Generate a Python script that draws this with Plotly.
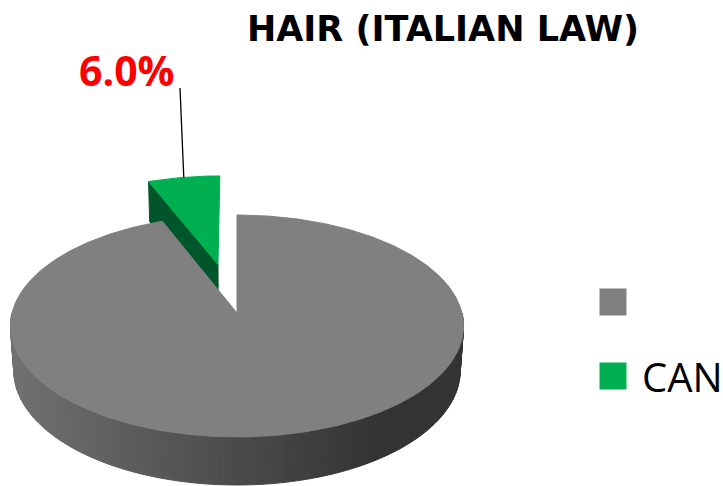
import numpy as np
import plotly.graph_objects as go

# ---- data ----
labels = ["", "CAN"]
values = [94.0, 6.0]
top_colors = ["#808080", "#00B050"]
cut_colors = ["#5a5a5a", "#00562B"]
pull = [0.0, 0.476]
title_text = "HAIR (ITALIAN LAW)"

W, H = 723, 486

# ---- 3D pie projection (perspective view of a tilted disc) ----
CX, CY = 237.0, 313.0
CAM = 7.47
FOCAL = 225.0 * CAM
TILT = np.radians(29.1)
THICK = 0.229
S, C = np.sin(TILT), np.cos(TILT)


def project(theta_deg, r=1.0, z=0.0, off=(0.0, 0.0)):
    t = np.radians(np.asarray(theta_deg, dtype=float))
    X = r * np.sin(t) + off[0]
    D = r * np.cos(t) + off[1]
    dist = CAM + C * D - S * z
    return CX + FOCAL * X / dist, CY - FOCAL * (S * D + C * z) / dist


total = sum(values)
bounds = np.concatenate([[0.0], np.cumsum(values) / total * 360.0])
slices = []
for i, v in enumerate(values):
    a0, a1 = bounds[i], bounds[i + 1]
    mid = np.radians((a0 + a1) / 2)
    off = (pull[i] * np.sin(mid), pull[i] * np.cos(mid))
    slices.append(dict(a0=a0, a1=a1, off=off, mid=(a0 + a1) / 2))

fig = go.Figure()


def poly(xs, ys, color):
    fig.add_trace(go.Scatter(
        x=list(xs) + [xs[0]], y=list(ys) + [ys[0]], mode="lines",
        fill="toself", fillcolor=color, line=dict(color=color, width=1),
        hoverinfo="skip", showlegend=False))


# exploded CAN slice (sits behind the large slice)
g = slices[1]
ax0, ay0 = project(0, r=0.0, z=0.0, off=g["off"])
ax1, ay1 = project(0, r=0.0, z=-THICK, off=g["off"])
ox0, oy0 = project(g["a0"], z=0.0, off=g["off"])
ox1, oy1 = project(g["a0"], z=-THICK, off=g["off"])
poly([float(ax0), float(ox0), float(ox1), float(ax1)],
     [float(ay0), float(oy0), float(oy1), float(ay1)], cut_colors[1])
arc = np.linspace(g["a0"], g["a1"], 40)
tx, ty = project(arc, off=g["off"])
poly([float(ax0)] + list(tx), [float(ay0)] + list(ty), top_colors[1])

# side wall of the large slice, shaded left to right
b = slices[0]
edges = np.linspace(90, 270, 121)
for k in range(len(edges) - 1):
    seg = np.linspace(edges[k], edges[k + 1], 3)
    ux, uy = project(seg, z=0.0)
    lx, ly = project(seg[::-1], z=-THICK)
    xm = float(np.mean(ux))
    lev = int(round(np.interp(xm, [12, 380], [0x70, 0x33])))
    col = "#%02x%02x%02x" % (lev, lev, lev)
    poly(list(ux) + list(lx), list(uy) + list(ly), col)

# top face of the large slice
arc = np.linspace(b["a0"], b["a1"], 400)
tx, ty = project(arc)
cx0, cy0 = project(0, r=0.0)
poly([float(cx0)] + list(tx), [float(cy0)] + list(ty), top_colors[0])

# data label with leader line
share = values[1] / total * 100
lx_end, ly_end = project(g["mid"], off=g["off"])
fig.add_trace(go.Scatter(x=[180, float(lx_end)], y=[88, float(ly_end)], mode="lines",
                         line=dict(color="black", width=1.3), hoverinfo="skip",
                         showlegend=False))
fig.add_annotation(x=127, y=70, text="<b>%.1f%%</b>" % share, showarrow=False,
                   font=dict(family="Open Sans", size=41, color="#FF0000"),
                   xanchor="center", yanchor="middle")

# legend: colour keys plus their category names
fig.add_trace(go.Scatter(
    x=[613, 613], y=[302, 376], mode="markers",
    marker=dict(symbol="square", size=27, color=top_colors, line=dict(width=0)),
    hoverinfo="skip", showlegend=False))
for name, ypos in zip(labels, [302, 376]):
    if name:
        fig.add_annotation(x=640, y=ypos, text=name, showarrow=False,
                           xanchor="left", yanchor="middle",
                           font=dict(family="Open Sans", size=40, color="black"))

fig.update_layout(
    width=W, height=H, margin=dict(l=0, r=0, t=0, b=0),
    paper_bgcolor="white", plot_bgcolor="white",
    title=dict(text="<b>%s</b>" % title_text, x=443 / W, xanchor="center",
               y=1 - 29 / H, yanchor="middle",
               font=dict(family="DejaVu Sans", size=35, color="black")),
    xaxis=dict(range=[0, W], visible=False, fixedrange=True),
    yaxis=dict(range=[H, 0], visible=False, fixedrange=True),
)

fig.write_html("out.html")
